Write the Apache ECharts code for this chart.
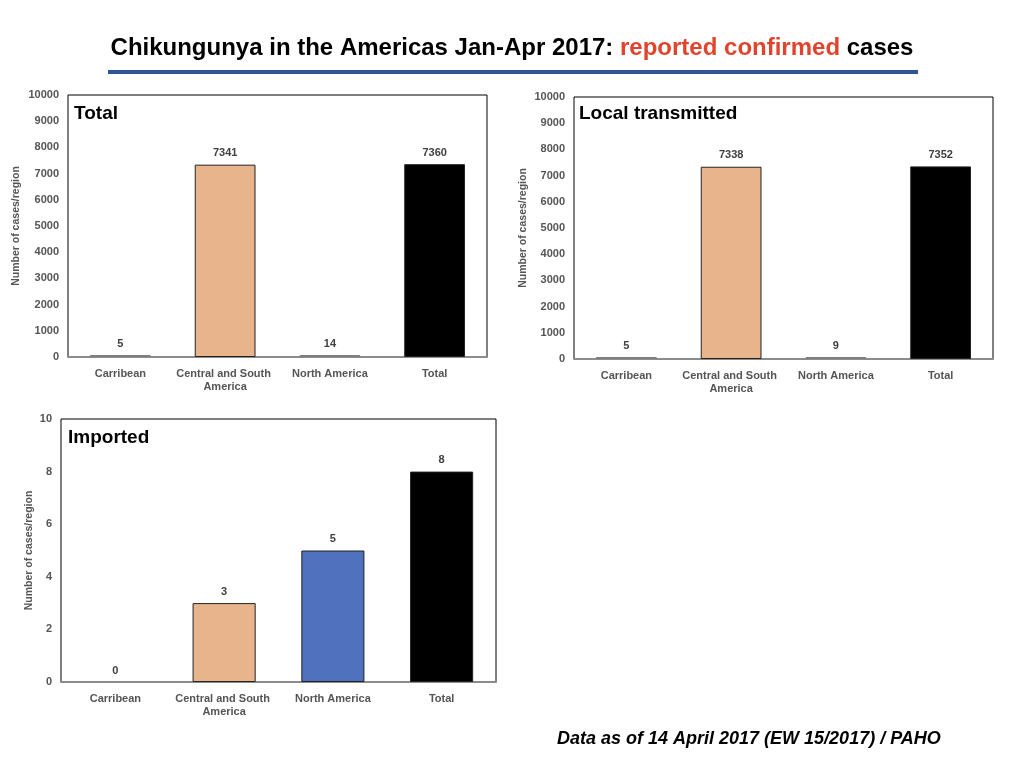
<!DOCTYPE html>
<html>
<head>
<meta charset="utf-8">
<script src="https://cdn.jsdelivr.net/npm/echarts@6/dist/echarts.min.js"></script>
<style>
  html, body { margin: 0; padding: 0; background: #fff; }
  #main { width: 1024px; height: 768px; }
</style>
</head>
<body>
<div id="main"></div>
<script>
var regions = ['Carribean', 'Central and South America', 'North America', 'Total']
var totalCases = [5, 7341, 14, 7360]
var localCases = [5, 7338, 9, 7352]
var importedCases = [0, 3, 5, 8]
var topColors = ['#7f7f7f', '#e8b48b', '#7f7f7f', '#000000']
var importedColors = ['#7f7f7f', '#e8b48b', '#4f71be', '#000000']

var font = 'Liberation Sans, Arial, sans-serif'
var chart = echarts.init(document.getElementById('main'))

// one panel = grid + axes + bar series
function barData(vals, colors) {
    return vals.map(function (v, i) {
        var tiny = colors[i] === '#7f7f7f'
        return {
            value: v,
            itemStyle: { color: colors[i], borderColor: tiny ? '#7f7f7f' : '#222', borderWidth: v === 0 ? 0 : 1 }
        }
    })
}
function xAxisFor(idx) {
    return {
        type: 'category', gridIndex: idx, data: regions,
        axisTick: { show: false },
        axisLine: { lineStyle: { color: '#8c8c8c', width: 2 } },
        axisLabel: {
            color: '#555', fontWeight: 'bold', fontSize: 11, fontFamily: font,
            margin: 10, interval: 0, width: 108, overflow: 'break', lineHeight: 13
        }
    }
}
function yAxisFor(idx, max, interval, gap) {
    return {
        type: 'value', gridIndex: idx, min: 0, max: max, interval: interval,
        name: 'Number of cases/region', nameLocation: 'middle', nameGap: gap,
        nameTextStyle: { color: '#555', fontSize: 10.5, fontWeight: 'bold', fontFamily: font },
        splitLine: { show: false },
        axisLine: { show: false },
        axisTick: { show: false },
        axisLabel: {
            color: '#555', fontWeight: 'bold', fontSize: 11, fontFamily: font, margin: 9,
            formatter: function (v) { return String(v) }
        }
    }
}
function seriesFor(idx, vals, colors, minH) {
    return {
        type: 'bar', xAxisIndex: idx, yAxisIndex: idx,
        barWidth: '58%', barMinHeight: minH,
        data: barData(vals, colors),
        label: {
            show: true, position: 'top', distance: 6,
            color: '#404040', fontWeight: 'bold', fontSize: 11, fontFamily: font
        }
    }
}

var option = {
    backgroundColor: '#fff',
    animation: false,
    title: [
        {
            text: '{a|Chikungunya in the Americas Jan-Apr 2017: }{b|reported confirmed}{a| cases}',
            left: 'center', top: 31,
            textStyle: {
                fontWeight: 'bold',
                rich: {
                    a: { fontSize: 24, fontWeight: 'bold', color: '#000', fontFamily: font },
                    b: { fontSize: 24, fontWeight: 'bold', color: '#e0442c', fontFamily: font }
                }
            }
        },
        { text: 'Total', left: 69, top: 99, textStyle: { fontSize: 19, fontWeight: 'bold', color: '#000', fontFamily: font } },
        { text: 'Local transmitted', left: 574, top: 99, textStyle: { fontSize: 19, fontWeight: 'bold', color: '#000', fontFamily: font } },
        { text: 'Imported', left: 63, top: 423, textStyle: { fontSize: 19, fontWeight: 'bold', color: '#000', fontFamily: font } }
    ],
    grid: [
        { left: 68, top: 95, width: 419, height: 262, show: true, borderColor: '#000', borderWidth: 1 },
        { left: 574, top: 97, width: 419, height: 262, show: true, borderColor: '#000', borderWidth: 1 },
        { left: 61, top: 419, width: 435, height: 263, show: true, borderColor: '#000', borderWidth: 1 }
    ],
    xAxis: [xAxisFor(0), xAxisFor(1), xAxisFor(2)],
    yAxis: [
        yAxisFor(0, 10000, 1000, 46),
        yAxisFor(1, 10000, 1000, 45),
        yAxisFor(2, 10, 2, 26)
    ],
    series: [
        seriesFor(0, totalCases, topColors, 2),
        seriesFor(1, localCases, topColors, 2),
        seriesFor(2, importedCases, importedColors, 0)
    ],
    graphic: [
        { type: 'rect', shape: { x: 108, y: 70, width: 810, height: 4 }, style: { fill: '#2e5597' } },
        {
            type: 'text', x: 557, y: 730,
            style: {
                text: 'Data as of 14 April 2017 (EW 15/2017) / PAHO',
                font: 'italic bold 18px ' + font, fill: '#000'
            }
        }
    ]
}
chart.setOption(option)
window.addEventListener('resize', function () { chart.resize() })
</script>
</body>
</html>
